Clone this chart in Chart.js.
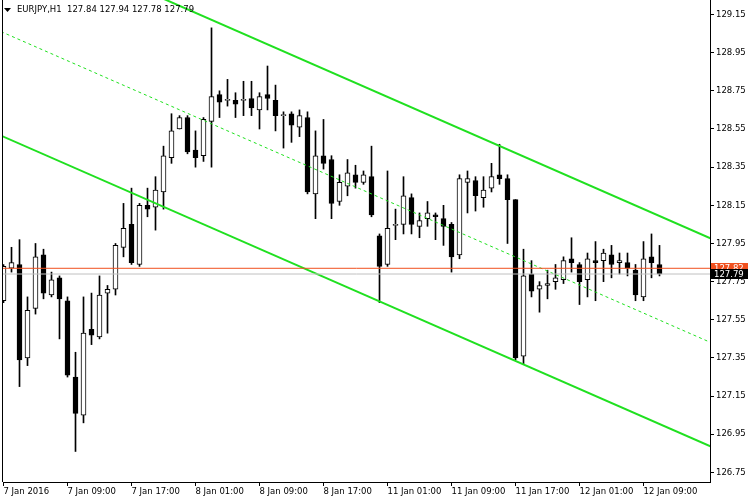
<!DOCTYPE html>
<html>
<head>
<meta charset="utf-8">
<script src="https://cdn.jsdelivr.net/npm/chart.js@4/dist/chart.umd.min.js"></script>
<style>
html, body { margin: 0; padding: 0; background: #fff; }
</style>
</head>
<body>
<canvas id="chart" width="750" height="500"></canvas>
<script>
// EURJPY H1 bars, 7 Jan 01:00 .. 12 Jan 11:00
const opens = [127.65,127.82,127.84,127.35,127.61,127.89,127.68,127.77,127.65,127.25,
  127.05,127.50,127.46,127.69,127.71,127.93,128.05,127.84,128.15,128.14,
  128.22,128.40,128.55,128.61,128.44,128.41,128.59,128.73,128.70,128.70,
  128.70,128.71,128.65,128.73,128.70,128.62,128.63,128.56,128.61,128.21,
  128.41,128.39,128.17,128.25,128.31,128.27,128.30,127.99,127.84,128.045,
  128.05,128.19,128.04,128.08,128.10,128.08,128.05,127.89,128.27,128.28,
  128.19,128.24,128.31,128.29,128.18,127.36,127.79,127.71,127.73,127.75,
  127.76,127.87,127.84,127.76,127.86,127.86,127.89,127.85,127.85,127.81,
  127.67,127.88,127.84];
const highs = [127.84,127.93,127.97,127.67,127.95,127.92,127.80,127.78,127.67,127.38,
  127.67,127.69,127.78,127.73,127.95,128.16,128.24,128.16,128.24,128.30,
  128.46,128.63,128.62,128.62,128.54,128.61,129.08,128.75,128.81,128.74,
  128.80,128.80,128.74,128.88,128.78,128.64,128.64,128.65,128.64,128.54,
  128.60,128.41,128.31,128.39,128.36,128.33,128.46,128.00,128.33,128.13,
  128.30,128.21,128.11,128.17,128.11,128.15,128.06,128.31,128.33,128.30,
  128.30,128.37,128.47,128.31,128.18,127.92,127.86,127.75,127.81,127.84,
  127.88,127.98,127.85,127.90,127.96,127.92,127.94,127.90,127.90,127.84,
  127.96,128.00,127.94];
const lows = [127.64,127.80,127.20,127.31,127.58,127.66,127.67,127.45,127.25,126.86,
  127.01,127.42,127.45,127.48,127.68,127.88,127.84,127.83,128.09,128.02,
  128.13,128.37,128.55,128.42,128.35,128.38,128.35,128.61,128.67,128.61,
  128.62,128.62,128.55,128.65,128.54,128.45,128.48,128.51,128.21,128.08,
  128.34,128.08,128.15,128.20,128.24,128.26,128.09,127.64,127.83,127.97,
  128.00,128.00,127.98,128.04,127.97,127.94,127.80,127.87,128.11,128.12,
  128.14,128.22,128.26,127.95,127.34,127.32,127.67,127.59,127.66,127.71,
  127.74,127.80,127.63,127.67,127.65,127.75,127.77,127.79,127.78,127.65,
  127.65,127.77,127.78];
const closes = [127.83,127.85,127.34,127.60,127.88,127.69,127.76,127.66,127.26,127.06,
  127.48,127.47,127.68,127.71,127.94,128.03,127.85,128.15,128.13,128.23,
  128.41,128.54,128.61,128.43,128.40,128.60,128.72,128.69,128.70,128.68,
  128.70,128.66,128.72,128.71,128.62,128.62,128.57,128.62,128.22,128.41,
  128.37,128.16,128.27,128.32,128.27,128.31,128.10,127.83,128.03,128.045,
  128.20,128.05,128.07,128.11,128.09,128.04,127.88,128.29,128.29,128.20,
  128.23,128.30,128.29,128.18,127.35,127.78,127.70,127.73,127.74,127.77,
  127.86,127.85,127.75,127.87,127.85,127.90,127.84,127.86,127.82,127.68,
  127.87,127.85,127.79];

const tickBars = [0, 8, 16, 24, 32, 40, 48, 56, 64, 72, 80];
const tickLabels = ['7 Jan 2016', '7 Jan 09:00', '7 Jan 17:00', '8 Jan 01:00', '8 Jan 09:00',
  '8 Jan 17:00', '11 Jan 01:00', '11 Jan 09:00', '11 Jan 17:00', '12 Jan 01:00', '12 Jan 09:00'];
const priceTicks = [126.75, 126.95, 127.15, 127.35, 127.55, 127.75, 127.95, 128.15, 128.35, 128.55, 128.75, 128.95, 129.15];

// regression channel, given at both ends of the visible range
const channelBars = [-1, 89];
const channelUpper = [129.618, 127.965];
const channelMiddle = [129.073, 127.420];
const channelLower = [128.528, 126.875];

const askPrice = 127.82;
const bidPrice = 127.79;
const title = 'EURJPY,H1  127.84 127.94 127.78 127.79';

const FONT = 'DejaVu Sans';
const GREEN = '#20e020';
const ASK_COLOR = '#f0501e';

const bars = opens.map((o, i) => i);

function lineSet(values, color, width, dash) {
    return {
        type: 'line',
        data: channelBars.map((b, i) => ({ x: b, y: values[i] })),
        borderColor: color,
        borderWidth: width,
        borderDash: dash || [],
        pointRadius: 0,
        fill: false,
        clip: 0,
        order: 0
    };
}

// borders, title and last-price tags
const extras = {
    id: 'extras',
    afterDraw(chart) {
        const ctx = chart.ctx;
        const area = chart.chartArea;
        const y = chart.scales.y;
        ctx.save();
        ctx.strokeStyle = '#000';
        ctx.lineWidth = 1;
        ctx.beginPath();
        ctx.moveTo(area.left - 0.5, area.top);
        ctx.lineTo(area.left - 0.5, area.bottom);
        ctx.stroke();

        // title
        ctx.fillStyle = '#000';
        ctx.beginPath();
        ctx.moveTo(4, 8);
        ctx.lineTo(11, 8);
        ctx.lineTo(7.5, 12);
        ctx.closePath();
        ctx.fill();
        ctx.font = '8.5px "' + FONT + '"';
        ctx.textBaseline = 'middle';
        ctx.textAlign = 'left';
        ctx.fillText(title, 17, 10);

        // price tags
        [[askPrice, ASK_COLOR], [bidPrice, '#000']].forEach(([p, col]) => {
            const py = Math.round(y.getPixelForValue(p));
            ctx.fillStyle = col;
            ctx.fillRect(area.right + 1, py - 5, 37, 10);
            ctx.fillStyle = '#fff';
            ctx.fillText(p.toFixed(2), area.right + 4, py + 0.5);
        });
        ctx.restore();
    }
};

const chart = new Chart(document.getElementById('chart').getContext('2d'), {
    data: {
        datasets: [
            {
                type: 'bar',
                data: bars.map(i => ({ x: i, y: [opens[i], closes[i]] })),
                backgroundColor: bars.map(i => closes[i] >= opens[i] ? '#fff' : '#000'),
                borderColor: '#000',
                borderWidth: 1,
                borderSkipped: false,
                barThickness: 5,
                minBarLength: 1,
                grouped: false,
                clip: 0,
                order: 1
            },
            {
                type: 'bar',
                data: bars.map(i => ({ x: i, y: [lows[i], highs[i]] })),
                backgroundColor: '#000',
                borderWidth: 0,
                barThickness: 1,
                grouped: false,
                clip: 0,
                order: 2
            },
            lineSet([askPrice, askPrice], ASK_COLOR, 1),
            lineSet([bidPrice, bidPrice], '#c0c0c0', 1),
            lineSet(channelUpper, GREEN, 2),
            lineSet(channelLower, GREEN, 2),
            lineSet(channelMiddle, GREEN, 1, [3, 3])
        ]
    },
    options: {
        responsive: false,
        devicePixelRatio: 1,
        animation: false,
        layout: { padding: { left: 3, right: 0, top: 0, bottom: 0 } },
        plugins: { legend: { display: false }, tooltip: { enabled: false } },
        scales: {
            x: {
                type: 'linear',
                position: 'bottom',
                offset: false,
                min: -0.0625,
                max: 88.3125,
                afterBuildTicks: s => { s.ticks = tickBars.map(v => ({ value: v })); },
                afterFit: s => { s.height = 18; s.paddingLeft = 0; s.paddingRight = 0; },
                ticks: {
                    autoSkip: false,
                    maxRotation: 0,
                    align: 'start',
                    padding: 1,
                    color: '#000',
                    font: { family: FONT, size: 8.5 },
                    callback: (v, i) => tickLabels[i]
                },
                grid: { offset: false, drawOnChartArea: false, drawTicks: true, tickLength: 4, color: '#000' },
                border: { display: true, color: '#000' }
            },
            y: {
                type: 'linear',
                position: 'right',
                min: 126.70,
                max: 129.226,
                afterBuildTicks: s => { s.ticks = priceTicks.map(v => ({ value: v })); },
                afterFit: s => { s.width = 40; s.paddingTop = 0; s.paddingBottom = 0; },
                ticks: {
                    padding: 2,
                    color: '#000',
                    font: { family: FONT, size: 8.5 },
                    callback: v => v.toFixed(2)
                },
                grid: { drawOnChartArea: false, drawTicks: true, tickLength: 4, color: '#000' },
                border: { display: true, color: '#000' }
            }
        }
    },
    plugins: [extras]
});
</script>
</body>
</html>
